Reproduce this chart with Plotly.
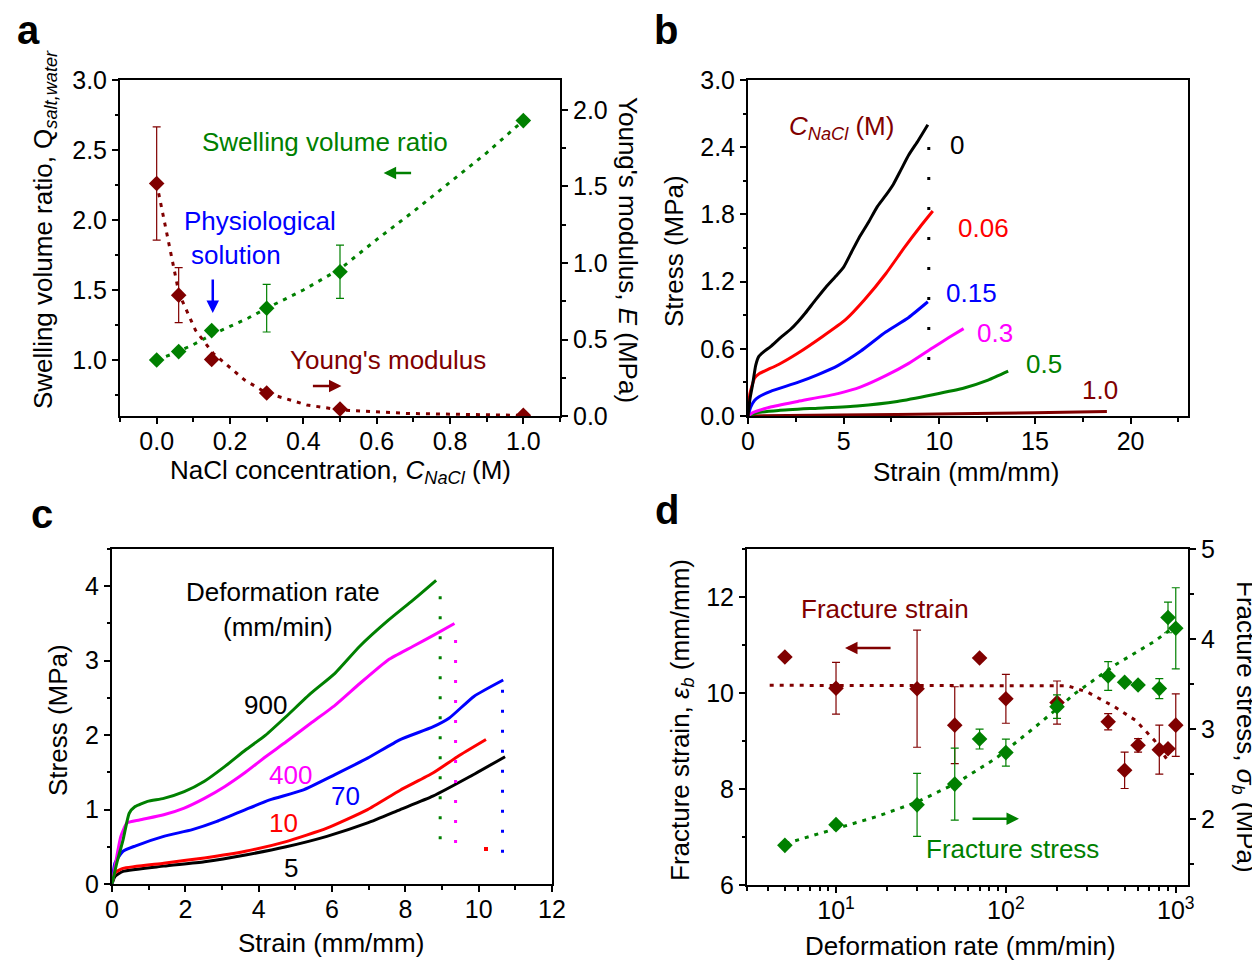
import plotly.graph_objects as go

# Reference picture size and the page offset of the plot inside the browser window
W, H = 1260, 963
OFF = 8
FW, FH = W - OFF, H - OFF

FONT = "Liberation Sans, Arial, sans-serif"
GREEN = "#008000"
DRED = "#800000"
BLUE = "#0000FF"
RED = "#FF0000"
MAG = "#FF00FF"
BLACK = "#000000"

# ---------------- Panel a data ----------------
a_conc = [0.0, 0.06, 0.15, 0.3, 0.5, 1.0]
a_swell = [1.00, 1.06, 1.21, 1.37, 1.63, 2.71]
a_swell_err = [0, 0, 0, 0.17, 0.19, 0]
a_mod = [1.52, 0.79, 0.37, 0.15, 0.046, 0.005]
a_mod_err = [0.37, 0.18, 0, 0, 0, 0]
a_swell_fit_x = [0.0, 0.05, 0.1, 0.15, 0.2, 0.25, 0.3, 0.4, 0.5, 0.6, 0.7, 0.8, 0.9, 1.0]
a_swell_fit_y = [1.00, 1.05, 1.11, 1.18, 1.24, 1.30, 1.37, 1.50, 1.65, 1.86, 2.06, 2.27, 2.48, 2.71]
a_mod_fit_x = [0.0, 0.028, 0.061, 0.106, 0.154, 0.24, 0.30, 0.41, 0.5, 0.68, 1.0]
a_mod_fit_y = [1.52, 1.19, 0.80, 0.56, 0.41, 0.235, 0.15, 0.072, 0.04, 0.017, 0.004]

# ---------------- Panel b data ----------------
b_x0 = [0, 0.1, 0.25, 0.4, 0.56, 0.8, 1.18, 1.7, 2.2, 2.6, 3.0, 3.5, 4.07, 4.6, 5.0, 5.4, 5.8, 6.3, 6.76, 7.2, 7.6, 8.0, 8.4, 8.9, 9.4]
b_y0 = [0, 0.15, 0.29, 0.45, 0.53, 0.57, 0.62, 0.70, 0.77, 0.84, 0.92, 1.03, 1.15, 1.25, 1.33, 1.46, 1.59, 1.73, 1.87, 1.97, 2.07, 2.20, 2.33, 2.46, 2.6]
b_x006 = [0, 0.1, 0.35, 0.6, 0.97, 1.6, 2.6, 3.9, 5.1, 6.1, 7.2, 8.2, 9.0, 9.66]
b_y006 = [0, 0.2, 0.34, 0.38, 0.41, 0.46, 0.56, 0.71, 0.86, 1.04, 1.27, 1.51, 1.69, 1.83]
b_x015 = [0, 0.14, 0.35, 0.56, 1.18, 2.6, 3.66, 4.7, 5.9, 7.2, 8.4, 9.4]
b_y015 = [0, 0.08, 0.14, 0.17, 0.22, 0.30, 0.37, 0.45, 0.58, 0.75, 0.88, 1.02]
b_x03 = [0, 0.25, 1.18, 2.6, 4.7, 5.9, 7.2, 8.4, 9.66, 10.5, 11.27]
b_y03 = [0, 0.03, 0.08, 0.13, 0.20, 0.26, 0.36, 0.47, 0.61, 0.70, 0.78]
b_x05 = [0, 0.5, 1.6, 3.66, 5.7, 7.8, 9.66, 11.3, 12.55, 13.6]
b_y05 = [0, 0.03, 0.05, 0.07, 0.09, 0.13, 0.19, 0.25, 0.32, 0.40]
b_x10 = [0, 4.7, 10.9, 15.0, 18.76]
b_y10 = [0, 0.008, 0.02, 0.03, 0.04]
b_break_x = [9.45, 9.45]
b_break_y = [0.5, 2.55]

# ---------------- Panel c data ----------------
c_x900 = [0, 0.13, 0.3, 0.47, 0.63, 0.97, 1.41, 1.97, 2.52, 3.08, 3.64, 4.19, 4.75, 5.42, 6.08, 6.75, 7.53, 8.2, 8.84]
c_y900 = [0, 0.28, 0.59, 0.95, 1.04, 1.11, 1.15, 1.24, 1.38, 1.58, 1.80, 2.0, 2.25, 2.56, 2.83, 3.19, 3.54, 3.81, 4.08]
c_x400 = [0, 0.13, 0.24, 0.41, 0.75, 1.41, 1.97, 2.52, 3.08, 3.64, 4.19, 4.75, 5.42, 6.08, 6.75, 7.53, 8.2, 8.8, 9.34]
c_y400 = [0, 0.37, 0.64, 0.82, 0.86, 0.93, 1.02, 1.15, 1.31, 1.50, 1.71, 1.91, 2.16, 2.40, 2.69, 3.01, 3.19, 3.35, 3.5]
c_x70 = [0, 0.08, 0.3, 0.63, 1.41, 2.19, 2.86, 3.64, 4.3, 5.2, 6.08, 6.97, 7.86, 8.75, 9.2, 9.87, 10.67]
c_y70 = [0, 0.28, 0.44, 0.51, 0.64, 0.73, 0.84, 1.0, 1.13, 1.26, 1.47, 1.69, 1.94, 2.11, 2.23, 2.52, 2.74]
c_x10 = [0, 0.08, 0.3, 1.41, 2.52, 3.64, 4.75, 5.86, 6.97, 7.86, 8.75, 9.42, 10.2]
c_y10 = [0, 0.15, 0.21, 0.28, 0.35, 0.44, 0.57, 0.75, 1.0, 1.26, 1.49, 1.71, 1.94]
c_x5 = [0, 0.08, 0.3, 1.41, 2.52, 3.64, 4.75, 5.86, 6.97, 7.86, 8.75, 9.75, 10.72]
c_y5 = [0, 0.10, 0.17, 0.24, 0.30, 0.39, 0.50, 0.64, 0.82, 1.0, 1.18, 1.44, 1.71]
c_break900_x = [8.95, 8.95]
c_break900_y = [0.6, 4.0]
c_break400_x = [9.37, 9.37]
c_break400_y = [0.55, 3.45]
c_break10_x = [10.2]
c_break10_y = [0.47]
c_break70_x = [10.65, 10.65]
c_break70_y = [0.42, 2.65]

# ---------------- Panel d data ----------------
d_rate = [5, 10, 30, 50, 70, 100, 200, 400, 500, 600, 800, 900, 1000]
d_strain = [10.75, 10.10, 10.09, 9.33, 10.73, 9.88, 9.80, 9.40, 8.39, 8.91, 8.82, 8.84, 9.33]
d_strain_err = [0, 0.54, 1.22, 0.80, 0, 0.51, 0.45, 0.17, 0.38, 0.14, 0.51, 0, 0.65]
d_stress = [1.71, 1.94, 2.16, 2.39, 2.89, 2.74, 3.25, 3.59, 3.52, 3.49, 3.45, 4.24, 4.12]
d_stress_err = [0, 0, 0.35, 0.40, 0.11, 0.15, 0.13, 0.16, 0, 0, 0.11, 0.17, 0.45]
d_strain_fit_x = [4.07, 10, 30, 100, 230, 302, 437, 580, 750, 909]
d_strain_fit_y = [10.16, 10.16, 10.16, 10.16, 10.15, 10.02, 9.71, 9.43, 9.01, 8.56]
d_stress_fit_x = [5.05, 10, 17.4, 29.9, 51, 88, 150, 257, 437, 742, 955]
d_stress_fit_y = [1.73, 1.90, 2.03, 2.19, 2.40, 2.68, 3.03, 3.40, 3.71, 3.97, 4.12]


def dx(p0, p1):
    return [(p0 - OFF) / FW, (p1 - OFF) / FW]


def dy(p0, p1):
    return [1 - (p1 - OFF) / FH, 1 - (p0 - OFF) / FH]


fig = go.Figure()

MS = 12
FITDASH = "4px,6px"
BREAKDASH = "3px,17px"
CURVE = dict(width=3, shape="spline", smoothing=0.5)


def err(vals, color):
    return dict(type="data", array=vals, visible=True, color=color, thickness=1.2, width=4)


# Panel a
fig.add_trace(go.Scatter(x=a_swell_fit_x, y=a_swell_fit_y, mode="lines", line=dict(color=GREEN, width=3, dash=FITDASH), xaxis="x", yaxis="y"))
fig.add_trace(go.Scatter(x=a_mod_fit_x, y=a_mod_fit_y, mode="lines", line=dict(color=DRED, width=3, dash=FITDASH), xaxis="x", yaxis="y2"))
fig.add_trace(go.Scatter(x=a_conc, y=a_swell, mode="markers", marker=dict(symbol="diamond", size=MS, color=GREEN),
                         error_y=err(a_swell_err, GREEN), xaxis="x", yaxis="y"))
fig.add_trace(go.Scatter(x=a_conc, y=a_mod, mode="markers", marker=dict(symbol="diamond", size=MS, color=DRED),
                         error_y=err(a_mod_err, DRED), xaxis="x", yaxis="y2"))

# Panel b
for xs, ys, col in [(b_x10, b_y10, DRED), (b_x05, b_y05, GREEN), (b_x03, b_y03, MAG), (b_x015, b_y015, BLUE), (b_x006, b_y006, RED), (b_x0, b_y0, BLACK)]:
    fig.add_trace(go.Scatter(x=xs, y=ys, mode="lines", line=dict(color=col, **CURVE), xaxis="x2", yaxis="y3"))
fig.add_trace(go.Scatter(x=b_break_x, y=b_break_y, mode="lines", line=dict(color=BLACK, width=3, dash="3px,27px"), xaxis="x2", yaxis="y3"))

# Panel c
for xs, ys, col in [(c_x5, c_y5, BLACK), (c_x10, c_y10, RED), (c_x70, c_y70, BLUE), (c_x400, c_y400, MAG), (c_x900, c_y900, GREEN)]:
    fig.add_trace(go.Scatter(x=xs, y=ys, mode="lines", line=dict(color=col, **CURVE), xaxis="x3", yaxis="y4"))
for xs, ys, col in [(c_break900_x, c_break900_y, GREEN), (c_break400_x, c_break400_y, MAG), (c_break70_x, c_break70_y, BLUE)]:
    fig.add_trace(go.Scatter(x=xs, y=ys, mode="lines", line=dict(color=col, width=3, dash=BREAKDASH), xaxis="x3", yaxis="y4"))
fig.add_trace(go.Scatter(x=c_break10_x, y=c_break10_y, mode="markers", marker=dict(color=RED, size=4, symbol="square"), xaxis="x3", yaxis="y4"))

# Panel d
fig.add_trace(go.Scatter(x=d_strain_fit_x, y=d_strain_fit_y, mode="lines", line=dict(color=DRED, width=3, dash=FITDASH), xaxis="x4", yaxis="y5"))
fig.add_trace(go.Scatter(x=d_stress_fit_x, y=d_stress_fit_y, mode="lines", line=dict(color=GREEN, width=3, dash=FITDASH), xaxis="x4", yaxis="y6"))
fig.add_trace(go.Scatter(x=d_rate, y=d_strain, mode="markers", marker=dict(symbol="diamond", size=MS, color=DRED),
                         error_y=err(d_strain_err, DRED), xaxis="x4", yaxis="y5"))
fig.add_trace(go.Scatter(x=d_rate, y=d_stress, mode="markers", marker=dict(symbol="diamond", size=MS, color=GREEN),
                         error_y=err(d_stress_err, GREEN), xaxis="x4", yaxis="y6"))

TICKFONT = dict(family=FONT, size=25, color="black")


def axis(**kw):
    d = dict(showline=True, linecolor="black", linewidth=2, ticks="outside", ticklen=6, tickwidth=1.5,
             tickcolor="black", tickfont=TICKFONT, showgrid=False, zeroline=False, mirror=True, automargin=False)
    d.update(kw)
    return d


def minor(dt, t0=0, inside=False):
    return dict(ticks="inside" if inside else "outside", ticklen=3.5, tickwidth=1.5, tickcolor="black",
                dtick=dt, tick0=t0, showgrid=False)


def mirror_axis(**kw):
    d = dict(showline=False, ticks="inside", ticklen=6, tickwidth=1.5, tickcolor="black",
             showticklabels=False, showgrid=False, zeroline=False, automargin=False)
    d.update(kw)
    return d


log_minor = [3, 4, 5, 6, 7, 8, 9, 20, 30, 40, 50, 60, 70, 80, 90, 200, 300, 400, 500, 600, 700, 800, 900]
log_minor_d = dict(ticks="outside", ticklen=3.5, tickwidth=1.5, tickcolor="black", tickmode="array", tickvals=log_minor)
log_minor_in = dict(ticks="inside", ticklen=3.5, tickwidth=1.5, tickcolor="black", tickmode="array", tickvals=log_minor)

XSO = -4  # pull x tick labels slightly closer to the axis

fig.update_layout(
    width=FW, height=FH, margin=dict(l=0, r=0, t=0, b=0, autoexpand=False),
    paper_bgcolor="white", plot_bgcolor="white", showlegend=False,
    font=dict(family=FONT, color="black"),
    # panel a
    xaxis=axis(domain=dx(120, 560), range=[-0.1, 1.1], tick0=0, dtick=0.2, tickformat=".1f", minor=minor(0.1), anchor="y",
               ticklabelstandoff=XSO),
    yaxis=axis(domain=dy(80, 416), range=[0.6, 3.0], tick0=0, dtick=0.5, tickformat=".1f", minor=minor(0.25), anchor="x"),
    yaxis2=axis(overlaying="y", side="right", anchor="x", range=[0, 2.196], tick0=0, dtick=0.5, tickformat=".1f", minor=minor(0.25)),
    xaxis5=mirror_axis(overlaying="x", side="top", anchor="y", range=[-0.1, 1.1], tick0=0, dtick=0.1),
    # panel b
    xaxis2=axis(domain=dx(748, 1188), range=[0, 23], tick0=0, dtick=5, minor=minor(2.5), anchor="y3", ticklabelstandoff=XSO),
    yaxis3=axis(domain=dy(80, 416), range=[0, 3.0], tick0=0, dtick=0.6, tickformat=".1f", minor=minor(0.3), anchor="x2"),
    xaxis6=mirror_axis(overlaying="x2", side="top", anchor="y3", range=[0, 23], tick0=0, dtick=5, minor=minor(2.5, inside=True)),
    yaxis7=mirror_axis(overlaying="y3", side="right", anchor="x2", range=[0, 3.0], tick0=0, dtick=0.6, minor=minor(0.3, inside=True)),
    # panel c
    xaxis3=axis(domain=dx(112, 552), range=[0, 12], tick0=0, dtick=2, minor=minor(1), anchor="y4", ticklabelstandoff=XSO),
    yaxis4=axis(domain=dy(549, 884), range=[0, 4.5], tick0=0, dtick=1, minor=minor(0.5), anchor="x3"),
    xaxis7=mirror_axis(overlaying="x3", side="top", anchor="y4", range=[0, 12], tick0=0, dtick=2, minor=minor(1, inside=True)),
    yaxis8=mirror_axis(overlaying="y4", side="right", anchor="x3", range=[0, 4.5], tick0=0, dtick=1, minor=minor(0.5, inside=True)),
    # panel d
    xaxis4=axis(domain=dx(747, 1188), type="log", range=[0.476, 3.072], tickmode="array", tickvals=[10, 100, 1000],
                ticktext=["10<sup>1</sup>", "10<sup>2</sup>", "10<sup>3</sup>"], minor=log_minor_d, anchor="y5",
                ticklabelstandoff=XSO),
    yaxis5=axis(domain=dy(549, 885), range=[6, 13], tick0=0, dtick=2, minor=minor(1), anchor="x4"),
    yaxis6=axis(overlaying="y5", side="right", anchor="x4", range=[1.27, 5], tick0=0, dtick=1, minor=minor(0.5)),
    xaxis8=mirror_axis(overlaying="x4", side="top", anchor="y5", type="log", range=[0.476, 3.072], tickmode="array",
                       tickvals=[10, 100, 1000], minor=log_minor_in),
)

ann = []
TF = 26


def ptxt(text, px, py, size=TF, angle=0, color="black", bold=False):
    t = f"<b>{text}</b>" if bold else text
    ann.append(dict(text=t, x=(px - OFF) / FW, y=1 - (py - OFF) / FH, xref="paper", yref="paper", showarrow=False,
                    xanchor="center", yanchor="middle", textangle=angle,
                    font=dict(family=FONT, size=size, color=color)))


def dtxt(text, x, y, xr, yr, color, size=TF):
    ann.append(dict(text=text, x=x, y=y, xref=xr, yref=yr, showarrow=False, xanchor="center", yanchor="middle",
                    font=dict(family=FONT, size=size, color=color)))


def arrow(x0, y0, x1, y1, xr, yr, color):
    ann.append(dict(text="", x=x1, y=y1, ax=x0, ay=y0, xref=xr, yref=yr, axref=xr, ayref=yr,
                    showarrow=True, arrowhead=2, arrowsize=1, arrowwidth=2.5, arrowcolor=color))


# panel letters
ptxt("a", 28, 30, size=40, bold=True)
ptxt("b", 666, 30, size=40, bold=True)
ptxt("c", 42, 514, size=40, bold=True)
ptxt("d", 667, 510, size=40, bold=True)

# axis titles
ptxt("Swelling volume ratio, Q<sub><i>salt,water</i></sub>", 45, 230, angle=-90)
ptxt("Young's modulus, <i>E</i> (MPa)", 628, 250, angle=90)
ptxt("NaCl concentration, <i>C</i><sub><i>NaCl</i></sub> (M)", 340, 471)
ptxt("Stress (MPa)", 674, 251, angle=-90)
ptxt("Strain (mm/mm)", 966, 472)
ptxt("Stress (MPa)", 58, 720, angle=-90)
ptxt("Strain (mm/mm)", 331, 943)
ptxt("Fracture strain, <i>ε</i><sub><i>b</i></sub> (mm/mm)", 681, 720, angle=-90)
ptxt("Fracture stress, <i>σ</i><sub><i>b</i></sub> (MPa)", 1245, 727, angle=90)
ptxt("Deformation rate (mm/min)", 960, 946)

# panel a annotations
dtxt("Swelling volume ratio", 0.458, 2.557, "x", "y", GREEN)
dtxt("Physiological", 0.283, 1.993, "x", "y", BLUE)
dtxt("solution", 0.215, 1.75, "x", "y", BLUE)
dtxt("Young's modulus", 0.632, 1.0, "x", "y", DRED)
arrow(0.698, 2.336, 0.619, 2.336, "x", "y", GREEN)
arrow(0.153, 1.586, 0.153, 1.336, "x", "y", BLUE)
arrow(0.422, 0.814, 0.504, 0.814, "x", "y", DRED)

# panel b annotations
dtxt("<i>C</i><sub><i>NaCl</i></sub> (M)", 4.9, 2.58, "x2", "y3", DRED)
dtxt("0", 10.9, 2.42, "x2", "y3", BLACK)
dtxt("0.06", 12.3, 1.68, "x2", "y3", RED)
dtxt("0.15", 11.7, 1.10, "x2", "y3", BLUE)
dtxt("0.3", 12.9, 0.74, "x2", "y3", MAG)
dtxt("0.5", 15.45, 0.46, "x2", "y3", GREEN)
dtxt("1.0", 18.4, 0.23, "x2", "y3", DRED)

# panel c annotations
dtxt("Deformation rate", 4.67, 3.92, "x3", "y4", BLACK)
dtxt("(mm/min)", 4.53, 3.45, "x3", "y4", BLACK)
dtxt("900", 4.19, 2.40, "x3", "y4", BLACK)
dtxt("400", 4.86, 1.47, "x3", "y4", MAG)
dtxt("70", 6.36, 1.18, "x3", "y4", BLUE)
dtxt("10", 4.69, 0.82, "x3", "y4", RED)
dtxt("5", 4.88, 0.21, "x3", "y4", BLACK)

# panel d annotations (log axis -> log10 coordinates)
dtxt("Fracture strain", 1.288, 11.76, "x4", "y5", DRED)
dtxt("Fracture stress", 2.036, 6.76, "x4", "y5", GREEN)
arrow(1.33, 10.94, 1.053, 10.94, "x4", "y5", DRED)
arrow(1.795, 7.38, 2.077, 7.38, "x4", "y5", GREEN)

fig.update_layout(annotations=ann)

fig.write_html("out.html")
